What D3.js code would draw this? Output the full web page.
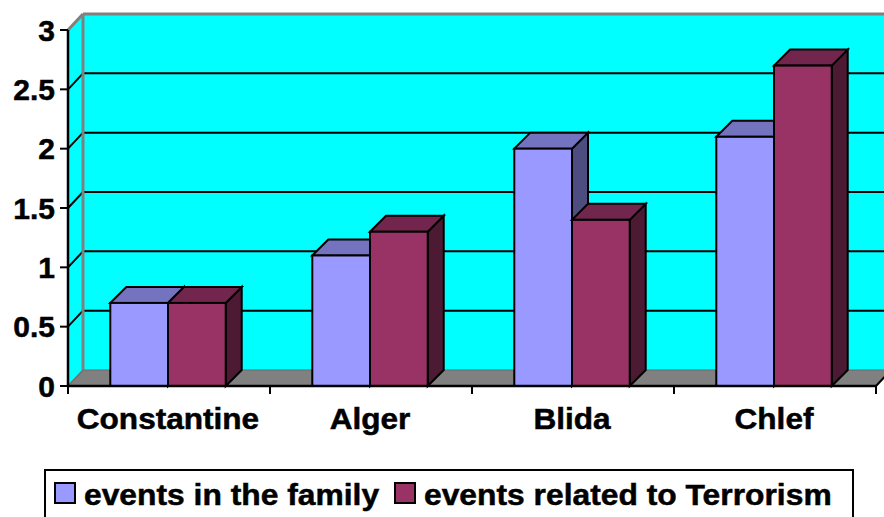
<!DOCTYPE html>
<html>
<head>
<meta charset="utf-8">
<script src="https://d3js.org/d3.v7.min.js"></script>
<style>
  html, body { margin: 0; padding: 0; background: #ffffff; }
  svg { display: block; }
  text { font-family: "Liberation Sans", Arial, sans-serif; font-weight: bold; fill: #000; stroke: #000; stroke-width: 0.5px; }
</style>
</head>
<body>
<svg id="chart" width="884" height="517"></svg>
<script>
const categories = ["Constantine", "Alger", "Blida", "Chlef"];
const seriesNames = ["events in the family", "events related to Terrorism"];
const familyValues = [0.7, 1.1, 2.0, 2.1];
const terrorismValues = [0.7, 1.3, 1.4, 2.7];
const yTickValues = [0, 0.5, 1, 1.5, 2, 2.5, 3];
const yTickLabels = ["0", "0.5", "1", "1.5", "2", "2.5", "3"];

const seriesValues = [familyValues, terrorismValues];
const colors = [
  { front: "#9999FF", top: "#7373BF", side: "#4D4D80" },
  { front: "#993366", top: "#73264D", side: "#4D1A33" }
];

const svg = d3.select("#chart");
const W = 884, H = 517;

// layout
const x0 = 68, x1 = 876;
const yBase = 386, yTopVal = 30;
const wallDx = 15, wallDy = -16;
const barDx = 16, barDy = -16;
const hStretch = 1.06;

const x = d3.scaleBand().domain(categories).range([x0, x1]).padding(0);
const xs = d3.scaleBand().domain(d3.range(seriesNames.length)).range([0, x.bandwidth()])
  .paddingInner(0).paddingOuter(0.75);
const y = d3.scaleLinear().domain([0, 3]).range([yBase, yTopVal]);
const yBack = v => y(v) + wallDy;

const pts = a => a.map(p => p.join(",")).join(" ");

// side wall (left)
svg.append("polygon")
  .attr("points", pts([[x0, y(0)], [x0, y(3)], [x0 + wallDx, yBack(3)], [x0 + wallDx, yBack(0)]]))
  .attr("fill", "#00FFFF");
// back wall
svg.append("rect")
  .attr("x", x0 + wallDx).attr("y", yBack(3))
  .attr("width", W - (x0 + wallDx) + 20).attr("height", yBack(0) - yBack(3))
  .attr("fill", "#00FFFF");

// floor
svg.append("polygon")
  .attr("points", pts([[x0, y(0)], [x1, y(0)], [x1 + wallDx, yBack(0)], [x0 + wallDx, yBack(0)]]))
  .attr("fill", "#808080").attr("stroke", "#6a6a6a").attr("stroke-width", 1);
svg.append("line")
  .attr("x1", x1).attr("y1", y(0)).attr("x2", x1 + wallDx).attr("y2", yBack(0))
  .attr("stroke", "#000").attr("stroke-width", 2);

// gridlines (back wall + side wall diagonals)
const gridVals = yTickValues.filter(v => v > 0 && v < 3);
svg.selectAll("line.grid").data(gridVals).enter().append("line")
  .attr("class", "grid")
  .attr("x1", x0 + wallDx).attr("x2", W + 10)
  .attr("y1", d => yBack(d)).attr("y2", d => yBack(d))
  .attr("stroke", "#000").attr("stroke-width", 2);
svg.selectAll("line.gridside").data(gridVals).enter().append("line")
  .attr("class", "gridside")
  .attr("x1", x0).attr("y1", d => y(d))
  .attr("x2", x0 + wallDx).attr("y2", d => yBack(d))
  .attr("stroke", "#000").attr("stroke-width", 2);

// wall edges (gray)
svg.append("line")
  .attr("x1", x0 + wallDx).attr("y1", yBack(3)).attr("x2", W + 10).attr("y2", yBack(3))
  .attr("stroke", "#808080").attr("stroke-width", 3);
svg.append("line")
  .attr("x1", x0).attr("y1", y(3)).attr("x2", x0 + wallDx).attr("y2", yBack(3))
  .attr("stroke", "#808080").attr("stroke-width", 3);
svg.append("line")
  .attr("x1", x0 + wallDx).attr("y1", yBack(3)).attr("x2", x0 + wallDx).attr("y2", yBack(0))
  .attr("stroke", "#808080").attr("stroke-width", 3);
svg.append("line")
  .attr("x1", x0).attr("y1", y(0)).attr("x2", x0 + wallDx).attr("y2", yBack(0))
  .attr("stroke", "#707070").attr("stroke-width", 1.5);

// bars
const barG = svg.append("g");
categories.forEach((cat, ci) => {
  seriesValues.forEach((vals, si) => {
    const v = vals[ci];
    const bx = x(cat) + xs(si) - 1;
    const bw = xs.bandwidth();
    const yt = y(v), yb = y(0);
    const g = barG.append("g");
    const st = { stroke: "#000", "stroke-width": 2, "stroke-linejoin": "miter" };
    const apply = (sel) => { for (const k in st) sel.attr(k, st[k]); return sel; };
    apply(g.append("polygon")
      .attr("points", pts([[bx + bw, yb], [bx + bw, yt], [bx + bw + barDx, yt + barDy], [bx + bw + barDx, yb + barDy]]))
      .attr("fill", colors[si].side));
    apply(g.append("polygon")
      .attr("points", pts([[bx, yt], [bx + barDx, yt + barDy], [bx + bw + barDx, yt + barDy], [bx + bw, yt]]))
      .attr("fill", colors[si].top));
    apply(g.append("rect")
      .attr("x", bx).attr("y", yt).attr("width", bw).attr("height", yb - yt)
      .attr("fill", colors[si].front));
  });
});

// y axis line
svg.append("line")
  .attr("x1", x0).attr("y1", y(3)).attr("x2", x0).attr("y2", y(0) + 1)
  .attr("stroke", "#000").attr("stroke-width", 2.5);
// x axis line
svg.append("line")
  .attr("x1", x0 - 1).attr("y1", y(0)).attr("x2", x1).attr("y2", y(0))
  .attr("stroke", "#000").attr("stroke-width", 2.5);

// y ticks
svg.selectAll("line.ytick").data(yTickValues).enter().append("line")
  .attr("class", "ytick")
  .attr("x1", x0 - 8).attr("x2", x0).attr("y1", d => y(d)).attr("y2", d => y(d))
  .attr("stroke", "#000").attr("stroke-width", 2);
svg.selectAll("text.ylab").data(yTickValues).enter().append("text")
  .attr("class", "ylab")
  .attr("x", 55).attr("y", d => y(d)).attr("dy", "0.35em")
  .attr("text-anchor", "end").attr("font-size", 30)
  .text((d, i) => yTickLabels[i]);

// x ticks at band boundaries
const xBounds = categories.map(c => x(c)).concat([x1]);
svg.selectAll("line.xtick").data(xBounds).enter().append("line")
  .attr("class", "xtick")
  .attr("x1", d => d).attr("x2", d => d).attr("y1", y(0)).attr("y2", y(0) + 8)
  .attr("stroke", "#000").attr("stroke-width", 2);

// x labels
const xl = svg.selectAll("text.xlab").data(categories).enter().append("text")
  .attr("class", "xlab")
  .attr("x", d => x(d) + x.bandwidth() / 2 - 1).attr("y", 429)
  .attr("text-anchor", "middle").attr("font-size", 29.5)
  .text(d => d);
xl.each(function () {
  const len = this.getComputedTextLength();
  d3.select(this).attr("textLength", len * 1.07).attr("lengthAdjust", "spacingAndGlyphs");
});

// legend
const lg = svg.append("g");
lg.append("rect").attr("x", 45).attr("y", 470).attr("width", 808).attr("height", 70)
  .attr("fill", "#fff").attr("stroke", "#000").attr("stroke-width", 2);
const legendX = [55, 395];
seriesNames.forEach((name, i) => {
  lg.append("rect").attr("x", legendX[i]).attr("y", 483).attr("width", 20).attr("height", 20)
    .attr("fill", colors[i].front).attr("stroke", "#000").attr("stroke-width", 2);
  const t = lg.append("text").attr("x", legendX[i] + 29).attr("y", 505)
    .attr("font-size", 30).text(name);
  const len = t.node().getComputedTextLength();
  t.attr("textLength", len * hStretch).attr("lengthAdjust", "spacingAndGlyphs");
});
</script>
</body>
</html>
